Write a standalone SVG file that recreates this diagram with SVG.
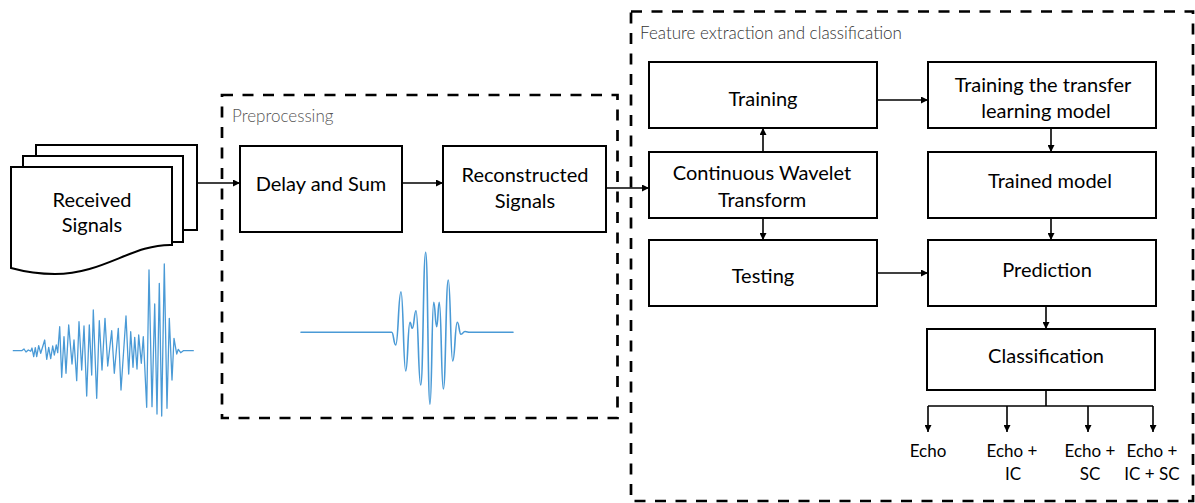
<svg xmlns="http://www.w3.org/2000/svg" width="1195" height="503" viewBox="0 0 1195 503">
  <defs>
    <marker id="ah" viewBox="0 0 8 8" refX="8" refY="4" markerWidth="7" markerHeight="7" markerUnits="userSpaceOnUse" orient="auto">
      <path d="M0,0 L8,4 L0,8 z" fill="#000"/>
    </marker>
    <style>
      .box { fill:#fff; stroke:#000; stroke-width:2; }
      .page { fill:#fff; stroke:#000; stroke-width:2; stroke-linejoin:miter; }
      .lbl { font-family:Lato, "Open Sans", "Liberation Sans", sans-serif; font-size:20px; fill:#000; text-anchor:middle; }
      .out { font-family:Lato, "Open Sans", "Liberation Sans", sans-serif; font-size:17px; fill:#000; text-anchor:middle; }
      .sec { font-family:Lato, "Open Sans", "Liberation Sans", sans-serif; font-weight:300; font-size:17px; }
      .frame { fill:none; stroke:#000; stroke-width:2.7; stroke-dasharray:11 9.5; }
      .wire { fill:none; stroke:#000; stroke-width:1.6; }
      .arrow { marker-end:url(#ah); }
      .wave { fill:none; stroke:#4a9ad6; stroke-linejoin:round; stroke-linecap:round; }
    </style>
  </defs>

  <rect width="1195" height="503" fill="#fff"/>

  <!-- dashed stage frames -->
  <g id="stage-preprocessing">
    <rect class="frame" x="222" y="95" width="395.5" height="323"/>
    <text class="sec" x="232" y="122" fill="#555">Preprocessing</text>
  </g>
  <g id="stage-features">
    <rect class="frame" x="631" y="11.5" width="562" height="489.5"/>
    <text class="sec" x="640" y="39" fill="#333">Feature extraction and classification</text>
  </g>

  <!-- stack of received signal records -->
  <g id="received-signals">
    <rect class="page" x="36" y="145" width="161" height="85"/>
    <rect class="page" x="23" y="156" width="160" height="86"/>
    <path class="page" d="M11,167 H172 V245 C132,244 104,274 55,274 C36,274 22,271 11,268 Z"/>
    <text class="lbl" x="92" y="207">Received</text>
    <text class="lbl" x="92" y="232">Signals</text>
  </g>

  <!-- raw multi-echo trace -->
  <g id="raw-trace">
    <polyline class="wave" stroke-width="1.3" points="13.3,350.7 21.7,350.7 24,349 26,352 28.3,350 30.7,351.3 32,348 33.7,356.7 35.3,347.7 36.7,356.7 38.7,345.7 40.7,353.3 44.7,340 46.7,359.3 48.7,347.3 50.7,358.7 52.7,346 54.3,355 56.3,345 57.7,352.7 59.7,326.7 61.7,377.3 64,336.7 66,373.3 68.7,325 72,364 74,340 76.7,380.7 79,321.7 81.7,370 84,326 86.7,396 89.3,325 91.7,375 93.3,310 96.7,398.3 99.3,320.7 102,370 105,318.3 107.7,366 111.7,330.7 114.3,373.3 118.3,328.3 121,390 126,316 128.7,374 130.7,331.7 133,367.3 134.7,337.3 137,369 138.7,335 141.3,363.3 143.3,336.7 146.7,407.3 149,270 152,406.7 154.7,304 157,414 159.3,283.3 161.7,416 164.3,264 167,408.3 169.3,318.3 172,380 174,338.3 176.7,354 178.3,349.3 180.7,352.7 183.3,350.7 193.3,350.7"/>
  </g>

  <!-- processing blocks -->
  <g id="delay-and-sum">
    <rect class="box" x="240" y="146" width="162" height="86"/>
    <text class="lbl" x="321" y="191">Delay and Sum</text>
  </g>
  <g id="reconstructed-signals">
    <rect class="box" x="443" y="146" width="163" height="86"/>
    <text class="lbl" x="525" y="182">Reconstructed</text>
    <text class="lbl" x="525" y="208">Signals</text>
  </g>

  <!-- beamformed trace -->
  <g id="reconstructed-trace">
    <path class="wave" stroke-width="1.6" d="M301,332.3 L391.7,332.3 C393.7,332.3 393.7,345 395.7,345 C398.35,345 398.35,291.7 401,291.7 C403.35,291.7 403.35,371 405.7,371 C407.85,371 407.85,322.3 410,322.3 C411.15,322.3 411.15,328.3 412.3,328.3 C414.15,328.3 414.15,310.7 416,310.7 C418.35,310.7 418.35,385 420.7,385 C423.2,385 423.2,252.3 425.7,252.3 C427.85,252.3 427.85,404.3 430,404.3 C431.85,404.3 431.85,302.3 433.7,302.3 C435.2,302.3 435.2,326.7 436.7,326.7 C438,326.7 438,302.3 439.3,302.3 C441.3,302.3 441.3,389 443.3,389 C445.8,389 445.8,280 448.3,280 C450.5,280 450.5,361 452.7,361 C455,361 455,322.3 457.3,322.3 C459.15,322.3 459.15,334.3 461,334.3 C463,334.3 463,331.5 465,331.5 C467.5,331.5 467.5,332.3 470,332.3 L513,332.3"/>
  </g>

  <g id="training">
    <rect class="box" x="649" y="62" width="228" height="66"/>
    <text class="lbl" x="763" y="106">Training</text>
  </g>
  <g id="cwt">
    <rect class="box" x="649" y="152" width="228" height="66"/>
    <text class="lbl" x="762" y="180">Continuous Wavelet</text>
    <text class="lbl" x="762" y="207">Transform</text>
  </g>
  <g id="testing">
    <rect class="box" x="649" y="240" width="228" height="66"/>
    <text class="lbl" x="763" y="283">Testing</text>
  </g>
  <g id="transfer-learning">
    <rect class="box" x="928" y="62" width="228" height="66"/>
    <text class="lbl" x="1043" y="92">Training the transfer</text>
    <text class="lbl" x="1046" y="118">learning model</text>
  </g>
  <g id="trained-model">
    <rect class="box" x="928" y="152" width="228" height="66"/>
    <text class="lbl" x="1050" y="188">Trained model</text>
  </g>
  <g id="prediction">
    <rect class="box" x="928" y="240" width="228" height="66"/>
    <text class="lbl" x="1047" y="277">Prediction</text>
  </g>
  <g id="classification">
    <rect class="box" x="927" y="329" width="228" height="61"/>
    <text class="lbl" x="1046" y="363">Classification</text>
  </g>

  <!-- output classes -->
  <g id="class-echo">
    <text class="out" x="928" y="457">Echo</text>
  </g>
  <g id="class-echo-ic">
    <text class="out" x="1012" y="457">Echo +</text>
    <text class="out" x="1013" y="480">IC</text>
  </g>
  <g id="class-echo-sc">
    <text class="out" x="1090" y="457">Echo +</text>
    <text class="out" x="1090" y="480">SC</text>
  </g>
  <g id="class-echo-ic-sc">
    <text class="out" x="1152" y="457">Echo +</text>
    <text class="out" x="1152" y="480">IC + SC</text>
  </g>

  <!-- connectors -->
  <g id="connectors">
    <path class="wire arrow" d="M197,183 H240"/>
    <path class="wire arrow" d="M402,183 H443"/>
    <path class="wire arrow" d="M606,188 H649"/>
    <path class="wire arrow" d="M763,152 V128"/>
    <path class="wire arrow" d="M763,218 V240"/>
    <path class="wire arrow" d="M877,100 H928"/>
    <path class="wire arrow" d="M877,273 H928"/>
    <path class="wire arrow" d="M1051,128 V152"/>
    <path class="wire arrow" d="M1051,218 V240"/>
    <path class="wire arrow" d="M1046,306 V329"/>
    <path class="wire" d="M1046,390 V406 M928,406 H1153"/>
    <path class="wire arrow" d="M928,406 V432"/>
    <path class="wire arrow" d="M1007,406 V432"/>
    <path class="wire arrow" d="M1088,406 V432"/>
    <path class="wire arrow" d="M1153,406 V432"/>
  </g>
</svg>
